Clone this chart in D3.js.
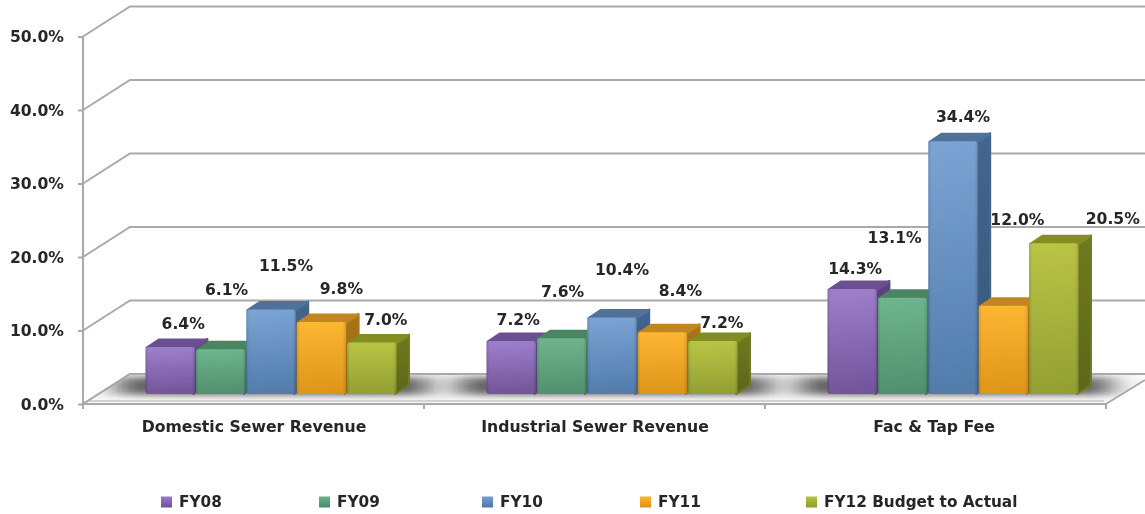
<!DOCTYPE html>
<html>
<head>
<meta charset="utf-8">
<script src="https://cdnjs.cloudflare.com/ajax/libs/d3/7.8.5/d3.min.js"></script>
<style>
html,body{margin:0;padding:0;background:#fff;overflow:hidden}
svg{display:block}
text{font-family:"DejaVu Sans",Verdana,sans-serif;font-weight:bold;fill:#262626}
</style>
</head>
<body>
<div id="chart"></div>
<script>
const categories = ["Domestic Sewer Revenue", "Industrial Sewer Revenue", "Fac & Tap Fee"];
const seriesNames = ["FY08", "FY09", "FY10", "FY11", "FY12 Budget to Actual"];
const fy08 = [6.4, 7.2, 14.3];
const fy09 = [6.1, 7.6, 13.1];
const fy10 = [11.5, 10.4, 34.4];
const fy11 = [9.8, 8.4, 12.0];
const fy12 = [7.0, 7.2, 20.5];
const yTicks = [0, 10, 20, 30, 40, 50];

const seriesValues = [fy08, fy09, fy10, fy11, fy12];
// hand-placed label offsets as in the original: [dx, dy] from the bar's top centre
const labelNudge = [
  [[13,-23],[7,-22],[3,-20]],
  [[6,-60],[1,-47],[-8,-60]],
  [[15,-44],[10,-48],[10,-25]],
  [[20,-33],[18,-42],[14,-86]],
  [[14,-23],[9,-19],[59,-25]]
];
const palette = [
  {hi:"#9a7aca",lo:"#6d4e96",side:"#5e4484",top:"#6b5092"},
  {hi:"#69b28a",lo:"#4a8c68",side:"#3f7655",top:"#4a8560"},
  {hi:"#76a0d2",lo:"#4a77a8",side:"#44668f",top:"#4f729b"},
  {hi:"#fdb42c",lo:"#dc9110",side:"#ab7518",top:"#c18620"},
  {hi:"#b7c23e",lo:"#8e9c2b",side:"#6f7a20",top:"#828e22"}
];

const W = 1145, H = 514;
const depthX = 47, depthY = -30, barDx = 14, barDy = -9;
const axisLeft = 83, axisRight = 1106, y0 = 404, y50 = 36.5;

const y = d3.scaleLinear().domain([0, 50]).range([y0, y50]);
const xGroup = d3.scaleBand().domain(categories).range([axisLeft, axisRight]);
const xBar = d3.scaleBand().domain(seriesNames).range([62, 314]);
const barBase = 10; // front edge of the bars sits this far behind the floor's front edge
const barY = v => y(v) - barBase;

const svg = d3.select("#chart").append("svg").attr("width", W).attr("height", H);
const defs = svg.append("defs");

defs.append("clipPath").attr("id", "floorClip").append("polygon")
  .attr("points", `${axisLeft},${y0} ${axisLeft+depthX},${y0+depthY} ${W},${y0+depthY} ${W},${y0-24} ${axisRight},${y0}`);
defs.append("filter").attr("id", "soft").attr("x", "-30%").attr("width", "160%").attr("y", "-150%").attr("height", "400%")
  .append("feGaussianBlur").attr("stdDeviation", "16 3.5");
defs.append("filter").attr("id", "soften").attr("x", "-2%").attr("width", "104%").attr("y", "-2%").attr("height", "104%")
  .append("feGaussianBlur").attr("stdDeviation", "0.6");

palette.forEach((p, i) => {
  const g = defs.append("linearGradient").attr("id", "front" + i).attr("x1", 0).attr("x2", 0).attr("y1", 0).attr("y2", 1);
  g.append("stop").attr("offset", "0%").attr("stop-color", p.hi);
  g.append("stop").attr("offset", "100%").attr("stop-color", p.lo);
  const s = defs.append("linearGradient").attr("id", "side" + i).attr("x1", 0).attr("x2", 0).attr("y1", 0).attr("y2", 1);
  s.append("stop").attr("offset", "0%").attr("stop-color", p.side);
  s.append("stop").attr("offset", "100%").attr("stop-color", d3.color(p.side).darker(0.5));
});
const sheen = defs.append("linearGradient").attr("id", "sheen").attr("x1", 0).attr("x2", 1).attr("y1", 0).attr("y2", 0);
[[0,"#000",0.14],[0.08,"#fff",0.04],[0.9,"#fff",0.03],[1,"#000",0.14]].forEach(d =>
  sheen.append("stop").attr("offset", d[0]).attr("stop-color", d[1]).attr("stop-opacity", d[2]));

const root = svg.append("g").attr("filter", "url(#soften)");

// back wall gridlines and side-wall diagonals
const gridColor = "#a9a9a9";
const grid = root.append("g").attr("fill", "none").attr("stroke", gridColor).attr("stroke-width", 2);
yTicks.forEach(t => {
  grid.append("path").attr("d", d3.line()([
    [axisLeft, y(t)], [axisLeft + depthX, y(t) + depthY], [W, y(t) + depthY]
  ]));
});

// floor slab
root.append("polygon")
  .attr("points", `${axisLeft},${y0} ${axisLeft+depthX},${y0+depthY} ${W},${y0+depthY} ${W},${y0-24} ${axisRight},${y0}`)
  .attr("fill", "#fbfbfb");
root.append("g").attr("clip-path", "url(#floorClip)").selectAll("rect")
  .data(categories).join("rect")
  .attr("x", d => xGroup(d) + 34)
  .attr("width", 312)
  .attr("y", y0 - 27)
  .attr("height", 18)
  .attr("fill", "#3a3a3a")
  .attr("fill-opacity", 0.8)
  .attr("filter", "url(#soft)");
root.append("path").attr("fill", "none").attr("stroke", "#d2d2d2").attr("stroke-width", 2)
  .attr("d", d3.line()([[axisLeft + 6, y0 - 3], [axisRight - 2, y0 - 3]]));
root.append("path").attr("fill", "none").attr("stroke", gridColor).attr("stroke-width", 2)
  .attr("d", d3.line()([[axisLeft, y0], [axisLeft + depthX, y0 + depthY], [W, y0 + depthY]]));
root.append("path").attr("fill", "none").attr("stroke", gridColor).attr("stroke-width", 2)
  .attr("d", d3.line()([[axisRight, y0], [W, y0 - 24]]));

// y axis
const yAxis = d3.axisLeft(y).tickValues(yTicks).tickSize(5).tickPadding(14)
  .tickFormat(d => d.toFixed(1) + "%");
const yg = root.append("g").attr("transform", `translate(${axisLeft},0)`).call(yAxis);
yg.selectAll("path,line").attr("stroke", gridColor).attr("stroke-width", 2);
yg.select(".domain").attr("d", `M0,${y50}V${y0}`);
yg.selectAll("text").style("font-size", "15.6px").attr("fill", "#262626").attr("dy", "0.32em");

// x axis
const xTickVals = categories.map(c => xGroup(c)).concat([axisRight]);
root.append("path").attr("stroke", gridColor).attr("stroke-width", 2).attr("fill", "none")
  .attr("d", d3.line()([[axisLeft, y0], [axisRight, y0]]));
root.append("g").selectAll("line").data(xTickVals).join("line")
  .attr("x1", d => d).attr("x2", d => d).attr("y1", y0).attr("y2", y0 + 5)
  .attr("stroke", gridColor).attr("stroke-width", 2);
root.append("g").selectAll("text").data(categories).join("text")
  .attr("x", (d, i) => xGroup(d) + (i === 2 ? 169 : 171))
  .attr("y", 432)
  .attr("text-anchor", "middle")
  .style("font-size", "15.7px")
  .text(d => d);

// bars
const flat = [];
categories.forEach((c, ci) => seriesNames.forEach((s, si) => flat.push({c, ci, s, si, v: seriesValues[si][ci]})));
flat.sort((a, b) => a.ci - b.ci || a.si - b.si);

const bars = root.append("g").selectAll("g").data(flat).join("g");
const bw = xBar.bandwidth();
const L = d => xGroup(d.c) + xBar(d.s);
bars.append("polygon")
  .attr("points", d => {
    const x = L(d) + bw, t = barY(d.v), b = barY(0);
    return [[x - 2, t], [x - 2 + barDx, t + barDy + 1], [x - 2 + barDx, b + barDy], [x - 2, b]].join(" ");
  })
  .attr("fill", d => `url(#side${d.si})`)
  .attr("stroke", d => palette[d.si].side)
  .attr("stroke-width", 2)
  .attr("stroke-linejoin", "round");
bars.append("polygon")
  .attr("points", d => {
    const x = L(d), t = barY(d.v);
    return [[x + 2, t + 1], [x + 2 + barDx - 2, t + barDy + 2], [x + bw + barDx - 3, t + barDy + 2], [x + bw - 2, t + 1]].join(" ");
  })
  .attr("fill", d => palette[d.si].top)
  .attr("stroke", d => palette[d.si].top)
  .attr("stroke-width", 3)
  .attr("stroke-linejoin", "round");
bars.append("rect")
  .attr("x", d => L(d) + 0.5).attr("width", bw - 1)
  .attr("y", d => barY(d.v)).attr("height", d => barY(0) - barY(d.v))
  .attr("rx", 3)
  .attr("fill", d => `url(#front${d.si})`);
bars.append("rect")
  .attr("x", d => L(d) + 0.5).attr("width", bw - 1)
  .attr("y", d => barY(d.v)).attr("height", d => barY(0) - barY(d.v))
  .attr("rx", 3)
  .attr("fill", "url(#sheen)");

// value labels
root.append("g").selectAll("text").data(flat).join("text")
  .attr("x", d => L(d) + bw / 2 + labelNudge[d.si][d.ci][0])
  .attr("y", d => barY(d.v) + labelNudge[d.si][d.ci][1])
  .attr("dy", "0.35em")
  .attr("text-anchor", "middle")
  .style("font-size", "15.6px")
  .text(d => d.v.toFixed(1) + "%");

// legend
const legendX = d3.scaleOrdinal().domain(seriesNames).range([161, 319, 482, 640, 806]);
const leg = root.append("g").selectAll("g").data(seriesNames).join("g")
  .attr("transform", d => `translate(${legendX(d)},502)`);
leg.append("rect").attr("x", 0).attr("y", -5.5).attr("width", 11).attr("height", 11)
  .attr("fill", (d, i) => `url(#front${i})`);
leg.append("text").attr("x", 18).attr("dy", "0.35em").style("font-size", "15.3px").text(d => d);
</script>
</body>
</html>
